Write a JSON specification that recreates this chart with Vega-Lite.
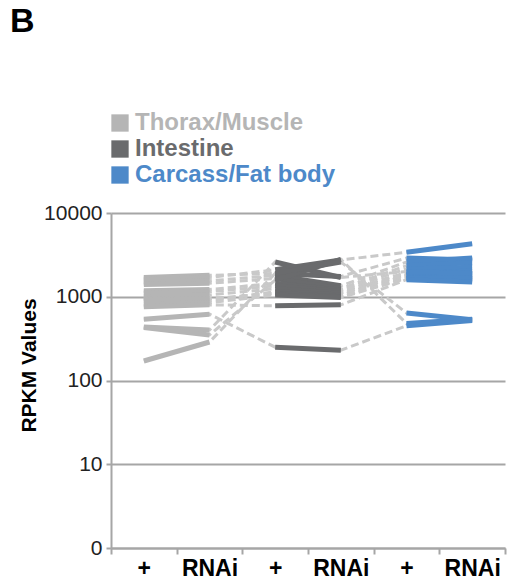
{
"$schema": "https://vega.github.io/schema/vega-lite/v6.json",
"width": 394, "height": 335,
"autosize": "none",
"padding": {"left": 111, "top": 213, "right": 3, "bottom": 38},
"background": "white",
"config": {"view": {"stroke": null}, "font": "Liberation Sans"},
"title": {"text": "B", "anchor": "start", "frame": "group", "fontSize": 34, "fontWeight": "bold", "color": "black", "baseline": "bottom", "dx": -101, "offset": 38},
"data": {"values": [
{"g":"g1","t":"Thorax/Muscle","s":"Thorax +","v":1700},{"g":"g1","t":"Thorax/Muscle","s":"Thorax RNAi","v":1800},{"g":"g1","t":"Intestine","s":"Intestine +","v":1900},{"g":"g1","t":"Intestine","s":"Intestine RNAi","v":1750},{"g":"g1","t":"Carcass/Fat body","s":"Fat +","v":2900},{"g":"g1","t":"Carcass/Fat body","s":"Fat RNAi","v":2750},
{"g":"g2","t":"Thorax/Muscle","s":"Thorax +","v":1600},{"g":"g2","t":"Thorax/Muscle","s":"Thorax RNAi","v":1700},{"g":"g2","t":"Intestine","s":"Intestine +","v":2100},{"g":"g2","t":"Intestine","s":"Intestine RNAi","v":2750},{"g":"g2","t":"Carcass/Fat body","s":"Fat +","v":3400},{"g":"g2","t":"Carcass/Fat body","s":"Fat RNAi","v":4300},
{"g":"g3","t":"Thorax/Muscle","s":"Thorax +","v":1500},{"g":"g3","t":"Thorax/Muscle","s":"Thorax RNAi","v":1550},{"g":"g3","t":"Intestine","s":"Intestine +","v":1800},{"g":"g3","t":"Intestine","s":"Intestine RNAi","v":1350},{"g":"g3","t":"Carcass/Fat body","s":"Fat +","v":2600},{"g":"g3","t":"Carcass/Fat body","s":"Fat RNAi","v":2900},
{"g":"g4","t":"Thorax/Muscle","s":"Thorax +","v":1400},{"g":"g4","t":"Thorax/Muscle","s":"Thorax RNAi","v":1450},{"g":"g4","t":"Intestine","s":"Intestine +","v":1650},{"g":"g4","t":"Intestine","s":"Intestine RNAi","v":1250},{"g":"g4","t":"Carcass/Fat body","s":"Fat +","v":2350},{"g":"g4","t":"Carcass/Fat body","s":"Fat RNAi","v":2550},
{"g":"g5","t":"Thorax/Muscle","s":"Thorax +","v":1180},{"g":"g5","t":"Thorax/Muscle","s":"Thorax RNAi","v":1220},{"g":"g5","t":"Intestine","s":"Intestine +","v":1450},{"g":"g5","t":"Intestine","s":"Intestine RNAi","v":1200},{"g":"g5","t":"Carcass/Fat body","s":"Fat +","v":2150},{"g":"g5","t":"Carcass/Fat body","s":"Fat RNAi","v":2250},
{"g":"g6","t":"Thorax/Muscle","s":"Thorax +","v":1100},{"g":"g6","t":"Thorax/Muscle","s":"Thorax RNAi","v":1150},{"g":"g6","t":"Intestine","s":"Intestine +","v":1350},{"g":"g6","t":"Intestine","s":"Intestine RNAi","v":1150},{"g":"g6","t":"Carcass/Fat body","s":"Fat +","v":1950},{"g":"g6","t":"Carcass/Fat body","s":"Fat RNAi","v":1800},
{"g":"g7","t":"Thorax/Muscle","s":"Thorax +","v":1000},{"g":"g7","t":"Thorax/Muscle","s":"Thorax RNAi","v":1050},{"g":"g7","t":"Intestine","s":"Intestine +","v":1250},{"g":"g7","t":"Intestine","s":"Intestine RNAi","v":1100},{"g":"g7","t":"Carcass/Fat body","s":"Fat +","v":1850},{"g":"g7","t":"Carcass/Fat body","s":"Fat RNAi","v":2050},
{"g":"g8","t":"Thorax/Muscle","s":"Thorax +","v":950},{"g":"g8","t":"Thorax/Muscle","s":"Thorax RNAi","v":900},{"g":"g8","t":"Intestine","s":"Intestine +","v":1150},{"g":"g8","t":"Intestine","s":"Intestine RNAi","v":1050},{"g":"g8","t":"Carcass/Fat body","s":"Fat +","v":1800},{"g":"g8","t":"Carcass/Fat body","s":"Fat RNAi","v":1650},
{"g":"g9","t":"Thorax/Muscle","s":"Thorax +","v":900},{"g":"g9","t":"Thorax/Muscle","s":"Thorax RNAi","v":950},{"g":"g9","t":"Intestine","s":"Intestine +","v":1100},{"g":"g9","t":"Intestine","s":"Intestine RNAi","v":1000},{"g":"g9","t":"Carcass/Fat body","s":"Fat +","v":1700},{"g":"g9","t":"Carcass/Fat body","s":"Fat RNAi","v":1550},
{"g":"g10","t":"Thorax/Muscle","s":"Thorax +","v":820},{"g":"g10","t":"Thorax/Muscle","s":"Thorax RNAi","v":850},{"g":"g10","t":"Intestine","s":"Intestine +","v":1050},{"g":"g10","t":"Intestine","s":"Intestine RNAi","v":980},{"g":"g10","t":"Carcass/Fat body","s":"Fat +","v":1650},{"g":"g10","t":"Carcass/Fat body","s":"Fat RNAi","v":1750},
{"g":"g11","t":"Thorax/Muscle","s":"Thorax +","v":760},{"g":"g11","t":"Thorax/Muscle","s":"Thorax RNAi","v":800},{"g":"g11","t":"Intestine","s":"Intestine +","v":780},{"g":"g11","t":"Intestine","s":"Intestine RNAi","v":800},{"g":"g11","t":"Carcass/Fat body","s":"Fat +","v":1600},{"g":"g11","t":"Carcass/Fat body","s":"Fat RNAi","v":1500},
{"g":"g12","t":"Thorax/Muscle","s":"Thorax +","v":540},{"g":"g12","t":"Thorax/Muscle","s":"Thorax RNAi","v":620},{"g":"g12","t":"Intestine","s":"Intestine +","v":250},{"g":"g12","t":"Intestine","s":"Intestine RNAi","v":230},{"g":"g12","t":"Carcass/Fat body","s":"Fat +","v":450},{"g":"g12","t":"Carcass/Fat body","s":"Fat RNAi","v":520},
{"g":"g13","t":"Thorax/Muscle","s":"Thorax +","v":435},{"g":"g13","t":"Thorax/Muscle","s":"Thorax RNAi","v":400},{"g":"g13","t":"Intestine","s":"Intestine +","v":2600},{"g":"g13","t":"Intestine","s":"Intestine RNAi","v":1700},{"g":"g13","t":"Carcass/Fat body","s":"Fat +","v":2000},{"g":"g13","t":"Carcass/Fat body","s":"Fat RNAi","v":1900},
{"g":"g14","t":"Thorax/Muscle","s":"Thorax +","v":430},{"g":"g14","t":"Thorax/Muscle","s":"Thorax RNAi","v":350},{"g":"g14","t":"Intestine","s":"Intestine +","v":1580},{"g":"g14","t":"Intestine","s":"Intestine RNAi","v":2800},{"g":"g14","t":"Carcass/Fat body","s":"Fat +","v":480},{"g":"g14","t":"Carcass/Fat body","s":"Fat RNAi","v":540},
{"g":"g15","t":"Thorax/Muscle","s":"Thorax +","v":171},{"g":"g15","t":"Thorax/Muscle","s":"Thorax RNAi","v":288},{"g":"g15","t":"Intestine","s":"Intestine +","v":1900},{"g":"g15","t":"Intestine","s":"Intestine RNAi","v":2600},{"g":"g15","t":"Carcass/Fat body","s":"Fat +","v":640},{"g":"g15","t":"Carcass/Fat body","s":"Fat RNAi","v":530}
]},
"encoding": {
  "x": {"field": "s", "type": "ordinal",
    "sort": ["Thorax +", "Thorax RNAi", "Intestine +", "Intestine RNAi", "Fat +", "Fat RNAi"],
    "scale": {"type": "band", "paddingInner": 0, "paddingOuter": 0},
    "axis": {"title": null, "labelAngle": 0, "tickBand": "extent", "grid": false,
      "labelExpr": "isValid(datum.value) ? (indexof('' + datum.value, 'RNAi') >= 0 ? 'RNAi' : '+') : ''",
      "labelFontSize": 23, "labelFontWeight": "bold", "labelColor": "black",
      "domainColor": "#a6a6a6", "domainWidth": 2, "tickColor": "#a6a6a6", "tickWidth": 2, "tickSize": 6, "labelPadding": 3}},
  "y": {"field": "v", "type": "quantitative",
    "scale": {"type": "log", "domain": [1, 10000]},
    "axis": {"values": [1, 10, 100, 1000, 10000], "title": "RPKM Values",
      "labelExpr": "datum.value == 1 ? '0' : format(datum.value, 'd')",
      "grid": true, "gridColor": "#a6a6a6", "gridWidth": 2,
      "domainColor": "#a6a6a6", "domainWidth": 2, "tickColor": "#a6a6a6", "tickWidth": 2, "tickSize": 5,
      "labelPadding": 4, "labelFontSize": 21, "labelColor": "#222222",
      "titleFontSize": 21, "titleFontWeight": "bold", "titleColor": "black", "titlePadding": 4, "titleY": 152}}
},
"layer": [
  {"mark": {"type": "line", "strokeDash": [8, 4], "strokeWidth": 3, "color": "#c9c9c9"},
   "encoding": {"detail": {"field": "g"}}},
  {"mark": {"type": "line", "strokeWidth": 5, "strokeCap": "butt"},
   "encoding": {"detail": {"field": "g"},
     "color": {"field": "t", "type": "nominal",
       "scale": {"domain": ["Thorax/Muscle", "Intestine", "Carcass/Fat body"], "range": ["#b5b5b5", "#6a6b6d", "#4d89c9"]},
       "legend": {"title": null, "orient": "none", "legendX": -3, "legendY": -102, "symbolType": "square", "symbolSize": 300, "symbolStrokeWidth": 0, "symbolOpacity": 1,
         "labelFontSize": 24, "labelFontWeight": "bold", "labelOffset": 3, "labelLimit": 400, "rowPadding": 2, "padding": 0,
         "encode": {"labels": {"update": {"fill": {"scale": "color", "field": "value"}}},
                    "symbols": {"update": {"fill": {"scale": "color", "field": "value"}, "fillOpacity": {"value": 1}}}}}}}}
]
}
